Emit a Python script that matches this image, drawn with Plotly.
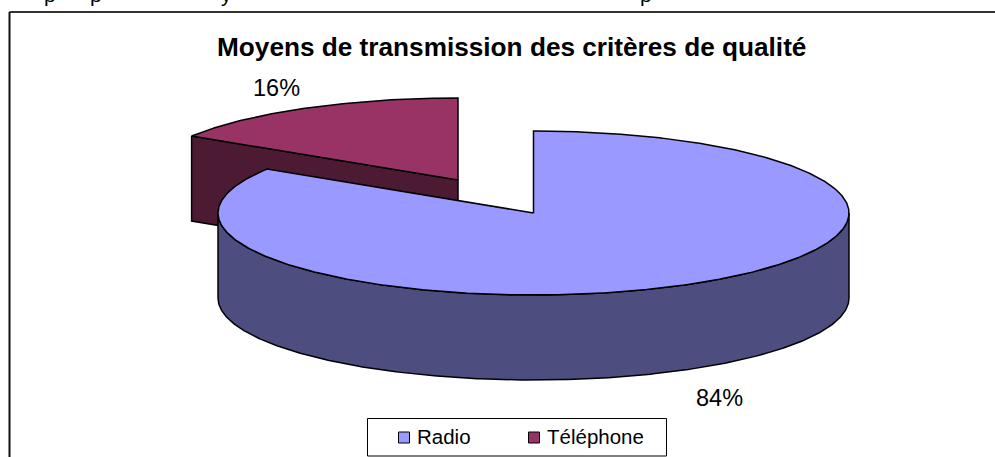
import numpy as np
import plotly.graph_objects as go

categories = ["Radio", "Téléphone"]
shares = [84, 16]
share_labels = ["84%", "16%"]
title_text = "Moyens de transmission des critères de qualité"
# Only the descenders of the line above the chart remain in the crop
cropped_line_letters = ["p", "p", "y", "p"]

W, H = 995, 457
RX, RY, DEPTH = 315.5, 82, 85
CENTER = {"Radio": (533.5, 213), "Téléphone": (458, 180)}
TOP = {"Radio": "#9999FF", "Téléphone": "#993366"}
SIDE = {"Radio": "#4D4D80", "Téléphone": "#4D1A33"}
FONT = "Liberation Sans, Arial, sans-serif"
EDGE = dict(color="black", width=1.5)
KEY_X = {"Radio": 404, "Téléphone": 534}
KEY_Y = 437.5


def rim(center, a0, a1, dy=0.0):
    t = np.radians(np.linspace(a0, a1, max(int(abs(a1 - a0)) * 2, 2)))
    return center[0] + RX * np.sin(t), center[1] - RY * np.cos(t) + dy


def poly(x, y, color, name):
    return go.Scatter(x=list(x), y=list(y), mode="lines", fill="toself", fillcolor=color,
                      line=EDGE, showlegend=False, hoverinfo="skip", name=name)


total = sum(shares)
split = 360 * shares[0] / total  # Radio runs clockwise from 12 o'clock, then Téléphone
spans = {"Radio": (0, split), "Téléphone": (split, 360)}
fig = go.Figure()

# Téléphone: cut face, then top
c = CENTER["Téléphone"]
a0, a1 = spans["Téléphone"]
ex, ey = rim(c, a0, a0)
fig.add_trace(poly([ex[0], c[0], c[0], ex[0], ex[0]],
                   [ey[0], c[1], c[1] + DEPTH, ey[0] + DEPTH, ey[0]], SIDE["Téléphone"], "Téléphone"))
rx_, ry_ = rim(c, a0, a1)
fig.add_trace(poly([c[0], *rx_, c[0]], [c[1], *ry_, c[1]], TOP["Téléphone"], "Téléphone"))

# Radio: outer wall (front half), then top
c = CENTER["Radio"]
a0, a1 = spans["Radio"]
ux, uy = rim(c, 90, 270)
lx, ly = rim(c, 270, 90, DEPTH)
fig.add_trace(poly([*ux, *lx, ux[0]], [*uy, *ly, uy[0]], SIDE["Radio"], "Radio"))
rx_, ry_ = rim(c, a0, a1)
fig.add_trace(poly([c[0], *rx_, c[0]], [c[1], *ry_, c[1]], TOP["Radio"], "Radio"))

# Key swatches
for name in categories:
    fig.add_trace(go.Scatter(x=[KEY_X[name]], y=[KEY_Y], mode="markers", name=name, showlegend=False,
                             hoverinfo="skip",
                             marker=dict(symbol="square", size=11, color=TOP[name],
                                         line=dict(color="black", width=1))))

# Chart frame (top and left sides are what the crop shows)
fig.add_shape(type="line", x0=9.5, x1=W, y0=12, y1=12, line=dict(color="#333333", width=2))
fig.add_shape(type="line", x0=9.5, x1=9.5, y0=12, y1=H, line=dict(color="#111111", width=2))
# Key box
fig.add_shape(type="rect", x0=367.5, x1=666.5, y0=418.5, y1=456, line=dict(color="black", width=1))

annotations = [
    dict(x=511, y=47, xref="x", yref="y", text=f"<b>{title_text}</b>", font=dict(size=26.2)),
    dict(x=276, y=88, xref="x", yref="y", text=share_labels[1], font=dict(size=23.5)),
    dict(x=719, y=398, xref="x", yref="y", text=share_labels[0], font=dict(size=23.5)),
]
for name in categories:
    annotations.append(dict(x=KEY_X[name] + 11, y=KEY_Y - 1, xref="x", yref="y", xanchor="left",
                            text=name, font=dict(size=20.5)))
for letter, xpos in zip(cropped_line_letters, [50, 96, 226, 646]):
    annotations.append(dict(x=xpos, y=1 + 19 / H, xref="x", yref="paper", text=letter, font=dict(size=21)))
for a in annotations:
    a.update(showarrow=False)
    a["font"].update(family=FONT, color="black")

fig.update_layout(
    width=W, height=H, margin=dict(l=0, r=0, t=0, b=0),
    paper_bgcolor="white", plot_bgcolor="white",
    xaxis=dict(range=[0, W], visible=False, fixedrange=True),
    yaxis=dict(range=[H, 0], visible=False, fixedrange=True),
    annotations=annotations,
    showlegend=False,
    hovermode=False,
)
fig.write_html("out.html", config={"displayModeBar": False},
               post_script="document.body.style.margin='0';document.body.style.overflow='hidden';")
